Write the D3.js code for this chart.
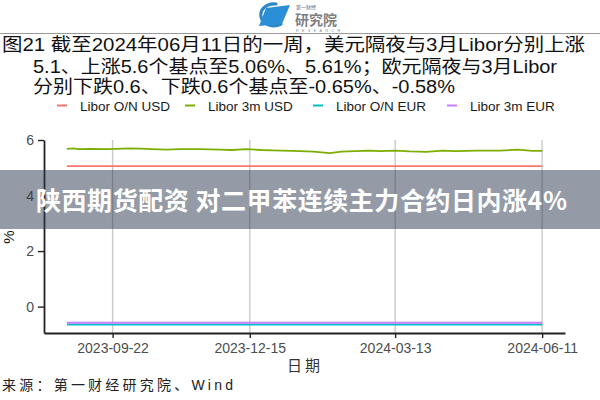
<!DOCTYPE html>
<html><head><meta charset="utf-8">
<script src="https://cdn.jsdelivr.net/npm/d3@7"></script>
<style>body{margin:0;background:#fff}svg{display:block}</style>
</head><body>
<svg id="c" width="600" height="400"></svg>
<script>
// ---- data ----
const dates = ["2023-08-25","2023-08-29","2023-09-01","2023-09-08","2023-09-19","2023-10-03","2023-10-09","2023-10-16","2023-10-25","2023-11-02","2023-11-14","2023-11-27","2023-12-04","2023-12-13","2023-12-22","2023-12-29","2024-01-15","2024-01-23","2024-02-02","2024-02-09","2024-02-26","2024-03-04","2024-03-13","2024-03-22","2024-04-01","2024-04-11","2024-04-19","2024-05-02","2024-05-16","2024-05-27","2024-06-05","2024-06-11"];
const liborOnUsd = [5.06,5.06,5.06,5.06,5.06,5.06,5.06,5.06,5.06,5.06,5.06,5.06,5.06,5.06,5.06,5.06,5.06,5.06,5.06,5.06,5.06,5.06,5.06,5.06,5.06,5.06,5.06,5.06,5.06,5.06,5.06,5.06];
const libor3mUsd = [5.68,5.70,5.67,5.68,5.67,5.70,5.69,5.67,5.65,5.67,5.67,5.65,5.64,5.67,5.64,5.63,5.60,5.58,5.53,5.58,5.62,5.60,5.62,5.59,5.57,5.62,5.60,5.62,5.62,5.65,5.61,5.61];
const liborOnEur = [-0.65,-0.65,-0.65,-0.65,-0.65,-0.65,-0.65,-0.65,-0.65,-0.65,-0.65,-0.65,-0.65,-0.65,-0.65,-0.65,-0.65,-0.65,-0.65,-0.65,-0.65,-0.65,-0.65,-0.65,-0.65,-0.65,-0.65,-0.65,-0.65,-0.65,-0.65,-0.65];
const libor3mEur = [-0.58,-0.58,-0.58,-0.58,-0.58,-0.58,-0.58,-0.58,-0.58,-0.58,-0.58,-0.58,-0.58,-0.58,-0.58,-0.58,-0.58,-0.58,-0.58,-0.58,-0.58,-0.58,-0.58,-0.58,-0.58,-0.58,-0.58,-0.58,-0.58,-0.58,-0.58,-0.58];
const seriesNames = ["Libor O/N USD","Libor 3m USD","Libor O/N EUR","Libor 3m EUR"];
const seriesColors = ["#F8766D","#7CAE00","#00BFC4","#C77CFF"];
const xTickLabels = ["2023-09-22","2023-12-15","2024-03-13","2024-06-11"];
const yTickValues = [0,2,4,6];
const titleLines = ["图21  截至2024年06月11日的一周，美元隔夜与3月Libor分别上涨",
                    "5.1、上涨5.6个基点至5.06%、5.61%；欧元隔夜与3月Libor",
                    "分别下跌0.6、下跌0.6个基点至-0.65%、-0.58%"];
const sourceText = "来源：第一财经研究院、Wind";
const xTitle = "日期";
const yTitle = "%";
const bannerText = "陕西期货配资 对二甲苯连续主力合约日内涨4%";

// ---- drawing ----
const svg = d3.select("#c");
const parse = d3.timeParse("%Y-%m-%d");
const allSeries = [liborOnUsd, libor3mUsd, liborOnEur, libor3mEur];
const latin = "'Liberation Sans','Noto Sans CJK SC',sans-serif";

// logo
const logo = svg.append("g");
logo.append("path").attr("d","M276,4 A13,11 0 1 0 281,24").attr("fill","none")
  .attr("stroke","#2f86c8").attr("stroke-width",3.2).attr("stroke-linecap","round");
logo.append("path").attr("d","M266,8 L290,5 L282,24 L259,26 Z").attr("fill","#2a8fd6");
logo.append("text").attr("x",296).attr("y",9).attr("font-size",5).attr("fill","#666")
  .attr("font-family","'Noto Sans CJK SC'").text("第一财经");
logo.append("text").attr("x",295).attr("y",25).attr("font-size",14).attr("fill","#7f7f7f")
  .attr("font-family","'Noto Sans CJK SC'").attr("font-weight","bold").text("研究院");
logo.append("text").attr("x",296).attr("y",32).attr("font-size",3.5).attr("fill","#888")
  .attr("font-family",latin).attr("textLength",44).text("RESEARCH");
svg.append("line").attr("x1",0).attr("x2",600).attr("y1",33.5).attr("y2",33.5)
  .attr("stroke","#9a9a9a").attr("stroke-width",1);

// title
const tl = [{x:2,y:51,w:583},{x:33,y:73,w:524},{x:33,y:93,w:422}];
titleLines.forEach((t,i)=>{
  svg.append("text").attr("x",tl[i].x).attr("y",tl[i].y).attr("font-size",18)
    .attr("font-family",latin).attr("fill","#111")
    .attr("textLength",tl[i].w).attr("lengthAdjust","spacingAndGlyphs").text(t);
});

// legend
const legX = [80,208,336,470];
seriesNames.forEach((n,i)=>{
  svg.append("line").attr("x1",legX[i]-23).attr("x2",legX[i]-13).attr("y1",105.5).attr("y2",105.5)
    .attr("stroke",seriesColors[i]).attr("stroke-width",2);
  svg.append("text").attr("x",legX[i]).attr("y",110.5).attr("font-size",13.5)
    .attr("font-family",latin).attr("fill","#1a1a1a").text(n);
});

// scales
const x = d3.scaleTime().domain([parse("2023-08-11"), parse("2024-06-25")]).range([44,565]);
const y = d3.scaleLinear().domain([-0.95, 6.0]).range([333,140]);

// gridlines
const xTicks = xTickLabels.map(parse);
svg.append("g").selectAll("line").data(xTicks).join("line")
  .attr("x1",d=>x(d)).attr("x2",d=>x(d)).attr("y1",y(6.0)).attr("y2",y(-0.95))
  .attr("stroke","#c9c9c9").attr("stroke-width",1.4);

// lines
const line = d3.line().x(d=>x(d[0])).y(d=>y(d[1]));
allSeries.forEach((vals,i)=>{
  const pts = dates.map((d,j)=>[parse(d), vals[j]]);
  svg.append("path").datum(pts).attr("d",line).attr("fill","none")
    .attr("stroke",seriesColors[i]).attr("stroke-width",1.8);
});

// axes
const xAxis = svg.append("g").attr("transform","translate(0,333)")
  .call(d3.axisBottom(x).tickValues(xTicks).tickFormat(d3.timeFormat("%Y-%m-%d")).tickSize(5).tickPadding(5).tickSizeOuter(0));
const yAxis = svg.append("g").attr("transform","translate(44,0)")
  .call(d3.axisLeft(y).tickValues(yTickValues).tickFormat(d3.format("d")).tickSize(6).tickPadding(4).tickSizeOuter(0));
[xAxis,yAxis].forEach(a=>{
  a.select(".domain").attr("stroke","#222").attr("stroke-width",1.8);
  a.selectAll(".tick line").attr("stroke","#222").attr("stroke-width",1.4);
  a.selectAll(".tick text").attr("fill","#4d4d4d").attr("font-size",14).attr("font-family",latin);
});

// axis titles
svg.append("text").attr("x",305).attr("y",371).attr("text-anchor","middle")
  .attr("font-size",15).attr("font-family","'Noto Sans CJK SC'").attr("fill","#333")
  .attr("letter-spacing",3).text(xTitle);
svg.append("text").attr("transform","translate(14,237) rotate(-90)").attr("text-anchor","middle")
  .attr("font-size",15).attr("font-family",latin).attr("fill","#111").text(yTitle);

// source
svg.append("text").attr("x",2).attr("y",390).attr("font-size",14)
  .attr("font-family",latin).attr("fill","#222")
  .attr("textLength",231).attr("lengthAdjust","spacing").text(sourceText);

// overlay banner
svg.append("rect").attr("x",0).attr("y",170).attr("width",600).attr("height",59)
  .attr("fill","rgb(41,55,77)").attr("fill-opacity",0.5);
svg.append("text").attr("x",36).attr("y",210).attr("font-size",25).attr("font-weight","bold")
  .attr("font-family","'Noto Sans CJK SC',sans-serif").attr("fill","#fff")
  .attr("textLength",531).attr("lengthAdjust","spacing").text(bannerText);
</script>
</body></html>
